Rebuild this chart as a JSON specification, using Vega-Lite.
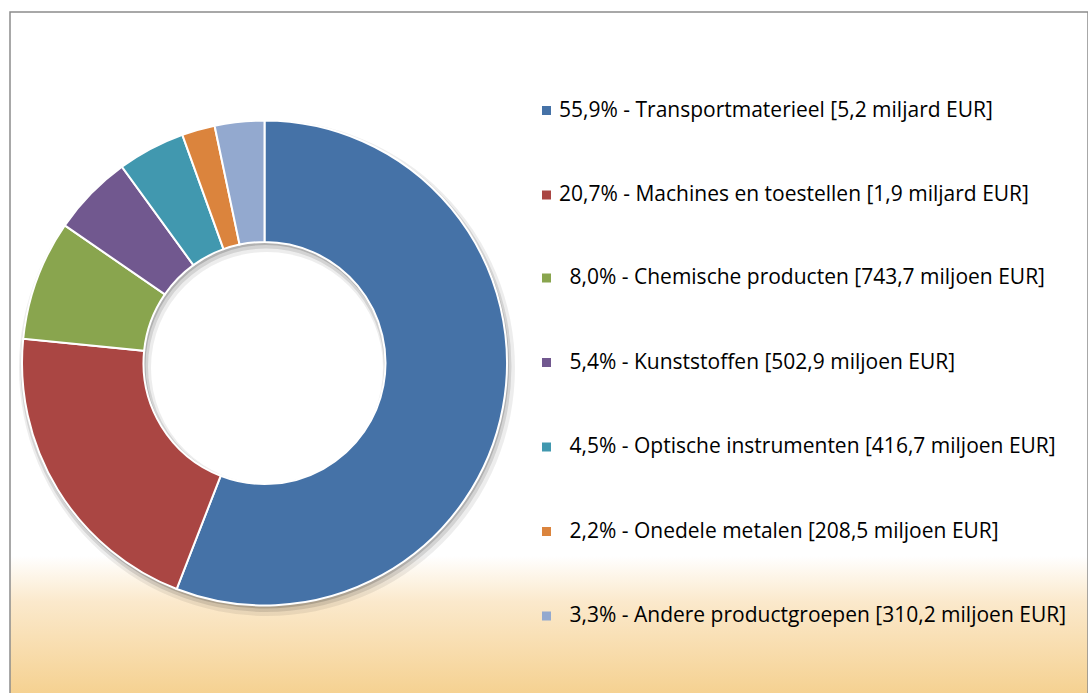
{
  "$schema": "https://vega.github.io/schema/vega-lite/v6.json",
  "width": 1078,
  "height": 702,
  "autosize": "none",
  "padding": {"left": 10, "top": 12, "right": 0, "bottom": 0},
  "background": "white",
  "config": {
    "view": {
      "stroke": "#8c8c8c",
      "strokeWidth": 1.5,
      "fill": {
        "gradient": "linear",
        "x1": 0, "y1": 0, "x2": 0, "y2": 1,
        "stops": [
          {"offset": 0, "color": "#ffffff"},
          {"offset": 0.775, "color": "#ffffff"},
          {"offset": 0.84, "color": "#fbe9cc"},
          {"offset": 1, "color": "#f4cc84"}
        ]
      }
    },
    "legend": {
      "title": null,
      "orient": "none",
      "padding": 0,
      "symbolType": "square",
      "symbolSize": 81,
      "symbolStrokeWidth": 0,
      "symbolOpacity": 1,
      "labelFont": "Open Sans",
      "labelFontSize": 21,
      "labelColor": "#000000",
      "labelLimit": 700,
      "rowPadding": 62.5
    }
  },
  "datasets": {
    "shares": [
      {"rank": 1, "label": "55,9% - Transportmaterieel [5,2 miljard EUR]", "value": 55.9},
      {"rank": 2, "label": "20,7% - Machines en toestellen [1,9 miljard EUR]", "value": 20.7},
      {"rank": 3, "label": "8,0% - Chemische producten [743,7 miljoen EUR]", "value": 8.0},
      {"rank": 4, "label": "5,4% - Kunststoffen [502,9 miljoen EUR]", "value": 5.4},
      {"rank": 5, "label": "4,5% - Optische instrumenten [416,7 miljoen EUR]", "value": 4.5},
      {"rank": 6, "label": "2,2% - Onedele metalen [208,5 miljoen EUR]", "value": 2.2},
      {"rank": 7, "label": "3,3% - Andere productgroepen [310,2 miljoen EUR]", "value": 3.3}
    ],
    "ring": [{"part": "shadow"}]
  },
  "resolve": {"scale": {"color": "independent"}, "legend": {"color": "independent"}},
  "layer": [
    {
      "data": {"name": "ring"},
      "mark": {"type": "arc", "innerRadius": 116, "outerRadius": 248, "color": "#000000", "opacity": 0.07},
      "encoding": {"x": {"value": 257}, "y": {"value": 356}}
    },
    {
      "data": {"name": "ring"},
      "mark": {"type": "arc", "innerRadius": 118, "outerRadius": 245.5, "color": "#000000", "opacity": 0.11},
      "encoding": {"x": {"value": 256}, "y": {"value": 354.5}}
    },
    {
      "data": {"name": "ring"},
      "mark": {"type": "arc", "innerRadius": 120, "outerRadius": 243.5, "color": "#000000", "opacity": 0.16},
      "encoding": {"x": {"value": 255.5}, "y": {"value": 353}}
    },
    {
      "data": {"name": "shares"},
      "mark": {"type": "arc", "innerRadius": 121, "outerRadius": 242.5, "stroke": "#ffffff", "strokeWidth": 2},
      "encoding": {
        "x": {"value": 254.5},
        "y": {"value": 351},
        "theta": {"field": "value", "type": "quantitative", "stack": true},
        "order": {"field": "rank", "type": "quantitative"},
        "color": {
          "field": "label",
          "type": "nominal",
          "sort": null,
          "scale": {
            "domain": [
              "55,9% - Transportmaterieel [5,2 miljard EUR]",
              "20,7% - Machines en toestellen [1,9 miljard EUR]",
              "8,0% - Chemische producten [743,7 miljoen EUR]",
              "5,4% - Kunststoffen [502,9 miljoen EUR]",
              "4,5% - Optische instrumenten [416,7 miljoen EUR]",
              "2,2% - Onedele metalen [208,5 miljoen EUR]",
              "3,3% - Andere productgroepen [310,2 miljoen EUR]"
            ],
            "range": ["#4572a7", "#aa4643", "#89a54e", "#71588f", "#4198af", "#db843d", "#93a9cf"]
          },
          "legend": {
            "legendX": 526,
            "legendY": 88,
            "labelOffset": 2,
            "values": [
              "55,9% - Transportmaterieel [5,2 miljard EUR]",
              "20,7% - Machines en toestellen [1,9 miljard EUR]"
            ]
          }
        }
      }
    },
    {
      "data": {"name": "shares"},
      "mark": {"type": "arc", "innerRadius": 121, "outerRadius": 242.5, "opacity": 0},
      "encoding": {
        "x": {"value": 254.5},
        "y": {"value": 351},
        "theta": {"field": "value", "type": "quantitative", "stack": true},
        "order": {"field": "rank", "type": "quantitative"},
        "color": {
          "field": "label",
          "type": "nominal",
          "sort": null,
          "scale": {
            "domain": [
              "55,9% - Transportmaterieel [5,2 miljard EUR]",
              "20,7% - Machines en toestellen [1,9 miljard EUR]",
              "8,0% - Chemische producten [743,7 miljoen EUR]",
              "5,4% - Kunststoffen [502,9 miljoen EUR]",
              "4,5% - Optische instrumenten [416,7 miljoen EUR]",
              "2,2% - Onedele metalen [208,5 miljoen EUR]",
              "3,3% - Andere productgroepen [310,2 miljoen EUR]"
            ],
            "range": ["#4572a7", "#aa4643", "#89a54e", "#71588f", "#4198af", "#db843d", "#93a9cf"]
          },
          "legend": {
            "legendX": 526,
            "legendY": 255.5,
            "labelOffset": 12.5,
            "values": [
              "8,0% - Chemische producten [743,7 miljoen EUR]",
              "5,4% - Kunststoffen [502,9 miljoen EUR]",
              "4,5% - Optische instrumenten [416,7 miljoen EUR]",
              "2,2% - Onedele metalen [208,5 miljoen EUR]",
              "3,3% - Andere productgroepen [310,2 miljoen EUR]"
            ]
          }
        }
      }
    }
  ]
}
